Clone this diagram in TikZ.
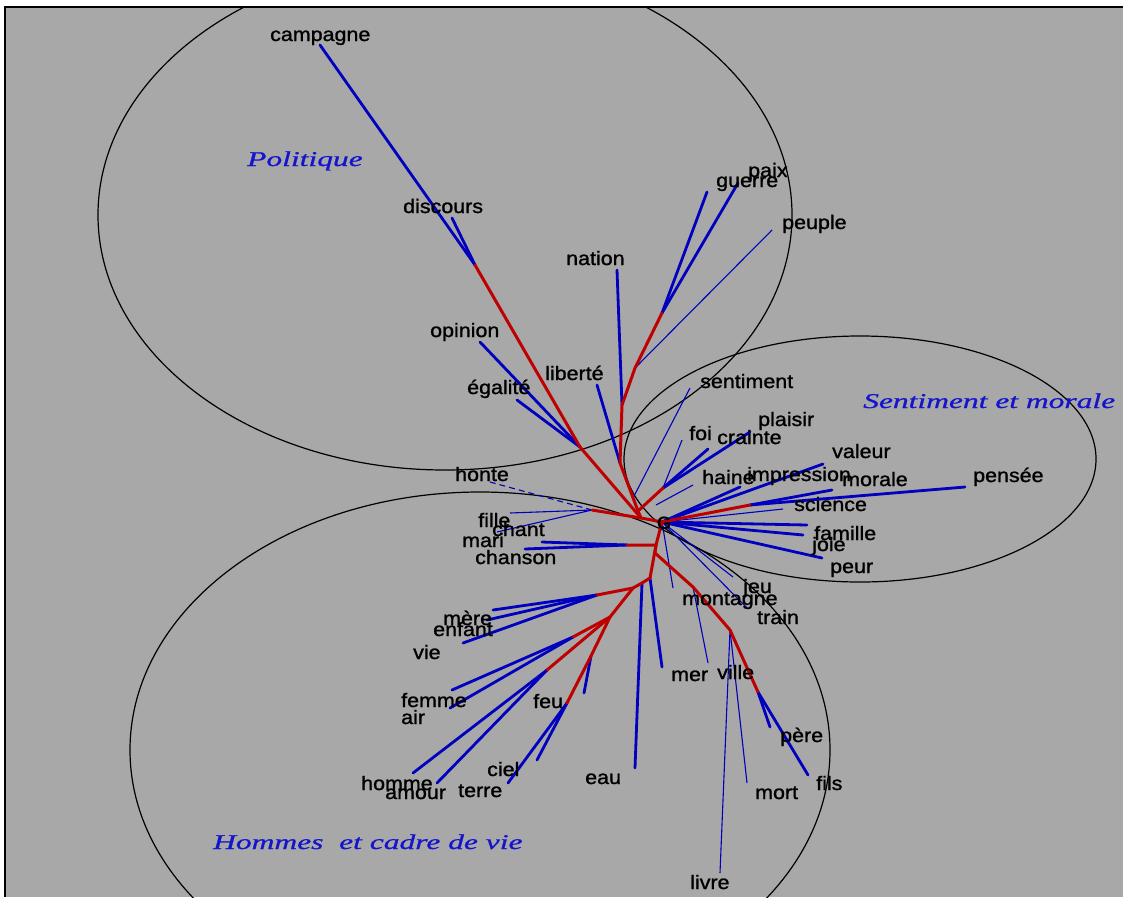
\documentclass[tikz,border=0pt]{standalone}
\usepackage{fontspec}
\setmainfont{Liberation Sans}
\newfontfamily\wordfont{Liberation Sans}[FakeStretch=1.1, FakeBold=1.2]
\newfontfamily\titlefont{Liberation Serif}[FakeStretch=1.5, FakeBold=1]
\definecolor{bg}{RGB}{168,168,168}
\definecolor{tred}{RGB}{190,0,0}
\definecolor{tblue}{RGB}{0,0,190}
\definecolor{ttitle}{RGB}{20,20,205}
\tikzset{
  redb/.style={draw=tred, line width=3pt, line cap=round, line join=round},
  bluek/.style={draw=tblue, line width=2.8pt, line cap=round},
  bluet/.style={draw=tblue, line width=1.1pt},
  bluedash/.style={draw=tblue, line width=1.1pt, dash pattern=on 6pt off 4pt},
  word/.style={font=\wordfont\fontsize{19.5}{20}\selectfont, text=black, inner sep=0pt, anchor=base west},
  title/.style={font=\titlefont\itshape\fontsize{21}{22}\selectfont, text=ttitle, inner sep=0pt, anchor=base west},
  ell/.style={draw=black, line width=1.2pt}
}
\begin{document}
\begin{tikzpicture}[x=1pt,y=-1pt]
\useasboundingbox (0,0) rectangle (1123,897);
\fill[white] (0,0) rectangle (1123,897);
\fill[bg] (5,7) rectangle (1123,897);
\draw[black, line width=1.6pt] (5,897) -- (5,7) -- (1123,7);

% ellipses
\begin{scope}
\clip (5,7) rectangle (1123,897);
\draw[ell] (445,215) ellipse [x radius=347, y radius=255];
\draw[ell] (860,459) ellipse [x radius=236, y radius=123];
\draw[ell] (480,750) ellipse [x radius=350, y radius=258];
\end{scope}

% titles
\node[title] (tpol) at (247,166) {Politique};
\node[title] (tsen) at (863,408) {Sentiment et morale};
\node[title] (thom) at (213,849) {Hommes\ \ et cadre de vie};

% junctions
\coordinate (G) at (662,522);
\coordinate (jP) at (641,518);
\coordinate (jT) at (638,511);
\coordinate (sS) at (633,498);
\coordinate (jT1) at (620,463);
\coordinate (jT2) at (622,405);
\coordinate (jT3) at (635,368);
\coordinate (jT4) at (662,313);
\coordinate (jC1) at (580,447);
\coordinate (jC2) at (475,265);
\coordinate (jFi) at (592,510);
\coordinate (jFo) at (663,488);
\coordinate (sH) at (656,505);
\coordinate (jPe) at (750,505);
\coordinate (jB) at (656,545);
\coordinate (jB2) at (655,553);
\coordinate (jM) at (627,545);
\coordinate (jD) at (650,578);
\coordinate (jE2) at (642,583);
\coordinate (jC) at (633,588);
\coordinate (jE) at (597,595);
\coordinate (jF2) at (610,617);
\coordinate (jW) at (573,637);
\coordinate (jH) at (547,670);
\coordinate (jFeu) at (591,656);
\coordinate (jK) at (567,703);
\coordinate (jR1) at (693,587);
\coordinate (jR2) at (730,630);
\coordinate (jR3) at (758,692);

% leaf ends
\coordinate (ecampagne) at (320,45);
\coordinate (ediscours) at (452,218);
\coordinate (eopinion) at (480,342);
\coordinate (eegalite) at (517,400);
\coordinate (enation) at (617,270);
\coordinate (eliberte) at (597,385);
\coordinate (eguerre) at (707,192);
\coordinate (epaix) at (738,183);
\coordinate (epeuple) at (772,230);
\coordinate (esentiment) at (690,388);
\coordinate (ecrainte) at (708,449);
\coordinate (eplaisir) at (750,432);
\coordinate (efoi) at (682,440);
\coordinate (ehaine) at (693,485);
\coordinate (evaleur) at (823,464);
\coordinate (eimpression) at (740,487);
\coordinate (efamille) at (807,525);
\coordinate (ejoie) at (803,535);
\coordinate (epeur) at (822,558);
\coordinate (epensee) at (965,487);
\coordinate (emorale) at (832,490);
\coordinate (escience) at (783,509);
\coordinate (ejeu) at (733,577);
\coordinate (etrain) at (747,608);
\coordinate (emontagne) at (673,588);
\coordinate (efille) at (510,513);
\coordinate (echant) at (497,532);
\coordinate (ehonte) at (490,482);
\coordinate (emari) at (542,542);
\coordinate (echanson) at (525,549);
\coordinate (emere) at (493,610);
\coordinate (eenfant) at (487,620);
\coordinate (evie) at (463,643);
\coordinate (efemme) at (452,690);
\coordinate (eair) at (450,708);
\coordinate (ehomme) at (413,773);
\coordinate (eamour) at (437,783);
\coordinate (eciel) at (537,760);
\coordinate (eterre) at (508,783);
\coordinate (efeu) at (584,693);
\coordinate (eeau) at (635,768);
\coordinate (emer) at (662,667);
\coordinate (eville) at (708,663);
\coordinate (elivre) at (720,873);
\coordinate (emort) at (747,783);
\coordinate (epere) at (770,727);
\coordinate (efils) at (808,775);

% thin blue leaves
\draw[bluet] (jT3) -- (epeuple);
\draw[bluet] (sS) -- (esentiment);
\draw[bluet] (jFo) -- (efoi);
\draw[bluet] (sH) -- (ehaine);
\draw[bluet] (G) -- (escience);
\draw[bluet] (G) -- (ejeu);
\draw[bluet] (G) -- (etrain);
\draw[bluet] (G) -- (emontagne);
\draw[bluet] (jFi) -- (efille);
\draw[bluet] (jFi) -- (echant);
\draw[bluedash] (jFi) -- (ehonte);
\draw[bluet] (jR1) -- (eville);
\draw[bluet] (jR2) -- (elivre);
\draw[bluet] (jR2) -- (emort);

% thick blue leaves
\draw[bluek] (jC2) -- (ecampagne);
\draw[bluek] (jC2) -- (ediscours);
\draw[bluek] (jC1) -- (eopinion);
\draw[bluek] (jC1) -- (eegalite);
\draw[bluek] (jT2) -- (enation);
\draw[bluek] (jT1) -- (eliberte);
\draw[bluek] (jT4) -- (eguerre);
\draw[bluek] (jT4) -- (epaix);
\draw[bluek] (jFo) -- (ecrainte);
\draw[bluek] (jFo) -- (eplaisir);
\draw[bluek] (G) -- (evaleur);
\draw[bluek] (G) -- (eimpression);
\draw[bluek] (G) -- (efamille);
\draw[bluek] (G) -- (ejoie);
\draw[bluek] (G) -- (epeur);
\draw[bluek] (jPe) -- (epensee);
\draw[bluek] (jPe) -- (emorale);
\draw[bluek] (jM) -- (emari);
\draw[bluek] (jM) -- (echanson);
\draw[bluek] (jE) -- (emere);
\draw[bluek] (jE) -- (eenfant);
\draw[bluek] (jE) -- (evie);
\draw[bluek] (jW) -- (efemme);
\draw[bluek] (jW) -- (eair);
\draw[bluek] (jH) -- (ehomme);
\draw[bluek] (jH) -- (eamour);
\draw[bluek] (jK) -- (eciel);
\draw[bluek] (jK) -- (eterre);
\draw[bluek] (jFeu) -- (efeu);
\draw[bluek] (jE2) -- (eeau);
\draw[bluek] (jD) -- (emer);
\draw[bluek] (jR3) -- (epere);
\draw[bluek] (jR3) -- (efils);

% red internal edges
\draw[redb] (jT4) -- (jT3) -- (jT2) -- (jT1) -- (jT) -- (jP) -- (G);
\draw[redb] (jC2) -- (jC1) -- (jP);
\draw[redb] (jFi) -- (jP);
\draw[redb] (jT) -- (jFo);
\draw[redb] (G) -- (jPe);
\draw[redb] (G) -- (jB) -- (jM);
\draw[redb] (jB) -- (jD) -- (jE2) -- (jC);
\draw[redb] (jC) -- (jE);
\draw[redb] (jC) -- (jF2);
\draw[redb] (jF2) -- (jW);
\draw[redb] (jF2) -- (jH);
\draw[redb] (jF2) -- (jFeu) -- (jK);
\draw[redb] (jB) -- (jB2) -- (jR1) -- (jR2) -- (jR3);

% centre label
\node[font=\bfseries\fontsize{18}{18}\selectfont, text=black, inner sep=0pt] (lG) at (664,523) {G};

% word labels
\node[word] (lcampagne) at (270,41) {campagne};
\node[word] (ldiscours) at (403,213) {discours};
\node[word] (lnation) at (566,265) {nation};
\node[word] (lpaix) at (748,177) {paix};
\node[word] (lguerre) at (716,187) {guerre};
\node[word] (lpeuple) at (782,229) {peuple};
\node[word] (lopinion) at (430,337) {opinion};
\node[word] (legalite) at (467,394) {égalité};
\node[word] (lliberte) at (545,380) {liberté};
\node[word] (lsentiment) at (700,388) {sentiment};
\node[word] (lplaisir) at (758,426) {plaisir};
\node[word] (lfoi) at (689,440) {foi};
\node[word] (lcrainte) at (717,444) {crainte};
\node[word] (lvaleur) at (832,458) {valeur};
\node[word] (lhaine) at (702,484) {haine};
\node[word] (limpression) at (747,481) {impression};
\node[word] (lmorale) at (842,486) {morale};
\node[word] (lpensee) at (973,482) {pensée};
\node[word] (lscience) at (794,511) {science};
\node[word] (lfamille) at (814,540) {famille};
\node[word] (ljoie) at (812,551) {joie};
\node[word] (lpeur) at (830,573) {peur};
\node[word] (ljeu) at (743,593) {jeu};
\node[word] (lmontagne) at (682,605) {montagne};
\node[word] (ltrain) at (757,624) {train};
\node[word] (lmer) at (671,681) {mer};
\node[word] (lville) at (717,679) {ville};
\node[word] (lpere) at (780,742) {père};
\node[word] (lfils) at (816,790) {fils};
\node[word] (lmort) at (755,799) {mort};
\node[word] (llivre) at (690,889) {livre};
\node[word] (lhonte) at (455,481) {honte};
\node[word] (lfille) at (478,527) {fille};
\node[word] (lchant) at (492,536) {chant};
\node[word] (lmari) at (462,547) {mari};
\node[word] (lchanson) at (475,564) {chanson};
\node[word] (lmere) at (443,625) {mère};
\node[word] (lenfant) at (433,636) {enfant};
\node[word] (lvie) at (413,659) {vie};
\node[word] (lfemme) at (401,707) {femme};
\node[word] (lair) at (401,724) {air};
\node[word] (lfeu) at (533,708) {feu};
\node[word] (lhomme) at (361,790) {homme};
\node[word] (lamour) at (385,799) {amour};
\node[word] (lciel) at (487,776) {ciel};
\node[word] (lterre) at (458,797) {terre};
\node[word] (leau) at (585,784) {eau};
\end{tikzpicture}
\end{document}
